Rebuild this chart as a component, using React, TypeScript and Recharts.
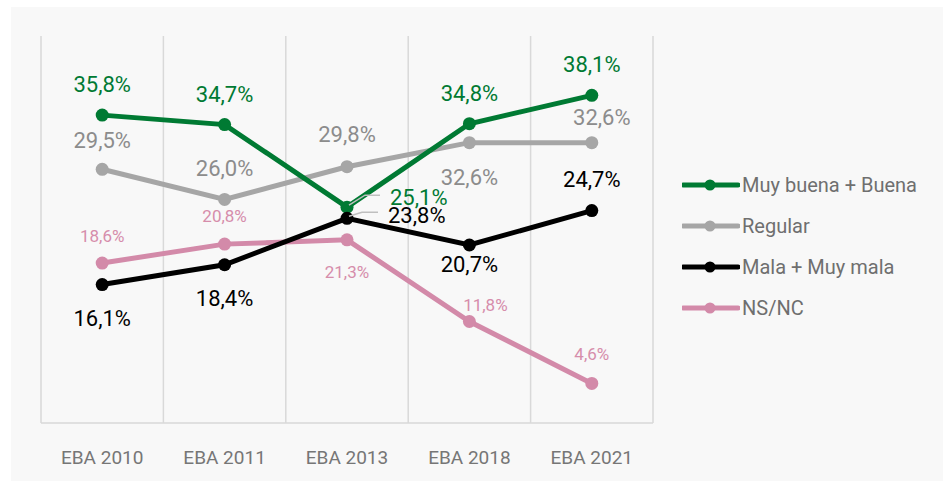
import { LineChart, Line, XAxis, YAxis, CartesianGrid, LabelList } from 'recharts';

const categories = ['EBA 2010', 'EBA 2011', 'EBA 2013', 'EBA 2018', 'EBA 2021'];
const muyBuenaBuena = [35.8, 34.7, 25.1, 34.8, 38.1];
const regular = [29.5, 26.0, 29.8, 32.6, 32.6];
const malaMuyMala = [16.1, 18.4, 23.8, 20.7, 24.7];
const nsnc = [18.6, 20.8, 21.3, 11.8, 4.6];

const data = categories.map((cat, i) => ({
  cat,
  good: muyBuenaBuena[i],
  regular: regular[i],
  bad: malaMuyMala[i],
  nsnc: nsnc[i],
}));

const FONT = 'Roboto, "Noto Sans", sans-serif';

// label placement per point: [dx, dy] or a leader-line spec
type Place = [number, number] | { leader: true; tx: number; ty: number; ex: number; ey: number; lx: number };

const series = [
  {
    key: 'good', name: 'Muy buena + Buena', color: '#007a33', text: '#007a33', size: 22,
    place: [[0, -31], [0, -30], { leader: true, tx: 43, ty: -10, ex: 18, ey: -12, lx: 33 }, [0, -30], [0, -31]] as Place[],
  },
  {
    key: 'regular', name: 'Regular', color: '#a6a6a6', text: '#8c8c8c', size: 22,
    place: [[0, -29], [0, -31], [0, -32], [0, 35], [10, -25]] as Place[],
  },
  {
    key: 'bad', name: 'Mala + Muy mala', color: '#000000', text: '#000000', size: 22,
    place: [[0, 34], [0, 34], { leader: true, tx: 41, ty: -3, ex: 15, ey: -6, lx: 31 }, [0, 20], [0, -31]] as Place[],
  },
  {
    key: 'nsnc', name: 'NS/NC', color: '#d38aa9', text: '#d68dab', size: 17,
    place: [[0, -27], [0, -28], [0, 32], [16, -17], [0, -29]] as Place[],
  },
];

const fmt = (v: number) => `${v.toFixed(1).replace('.', ',')}%`;

function makeLabel(s: (typeof series)[number]) {
  return (props: any) => {
    const { x, y, value, index } = props;
    const p = s.place[index];
    if (Array.isArray(p)) {
      return (
        <text x={x + p[0]} y={y + p[1]} textAnchor="middle" dominantBaseline="central"
          fill={s.text} fontSize={s.size} fontFamily={FONT}>
          {fmt(value)}
        </text>
      );
    }
    return (
      <g>
        <polyline points={`${x + 2},${y - 2} ${x + p.ex},${y + p.ey} ${x + p.lx},${y + p.ey}`}
          fill="none" stroke="#bfbfbf" strokeWidth={1.5} />
        <text x={x + p.tx} y={y + p.ty} textAnchor="start" dominantBaseline="central"
          fill={s.text} fontSize={s.size} fontFamily={FONT}>
          {fmt(value)}
        </text>
      </g>
    );
  };
}

function Tick(props: any) {
  const { x, y, payload } = props;
  return (
    <text x={x} y={y + 26} textAnchor="middle" dominantBaseline="central"
      fill="#767676" fontSize={19} fontFamily={FONT}>
      {payload.value}
    </text>
  );
}

function LegendBox() {
  return (
    <div style={{ position: 'absolute', left: 671, top: 157, fontFamily: FONT }}>
      {series.map((s) => (
        <div key={s.key} style={{ display: 'flex', alignItems: 'center', height: 41 }}>
          <svg width={58} height={14} style={{ marginRight: 2 }}>
            <line x1={1} y1={7} x2={56} y2={7} stroke={s.color} strokeWidth={5} strokeLinecap="round" />
            <circle cx={28} cy={7} r={5.5} fill={s.color} />
          </svg>
          <span style={{ color: '#6f6f6f', fontSize: 20, lineHeight: '20px' }}>{s.name}</span>
        </div>
      ))}
    </div>
  );
}

const drawOrder = ['regular', 'good', 'nsnc', 'bad'];

export default function App() {
  return (
    <div style={{ position: 'fixed', left: 11, top: 7, width: 932, height: 474, background: '#f8f8f8' }}>
      <LineChart width={932} height={474} data={data} margin={{ top: 29, right: 290, left: 30, bottom: 28 }}>
        <CartesianGrid
          horizontal={false}
          stroke="#d9d9d9"
          strokeWidth={1.5}
          verticalCoordinatesGenerator={({ offset }: any) =>
            Array.from({ length: categories.length + 1 }, (_, i) => offset.left + (i * offset.width) / categories.length)
          }
        />
        <XAxis dataKey="cat" scale="band" height={30} tickLine={false} tickSize={6} tickMargin={2}
          axisLine={{ stroke: '#d9d9d9', strokeWidth: 1.5 }} tick={<Tick />} interval={0} />
        <YAxis hide domain={[0, 45]} />
        {drawOrder.map((k) => {
          const s = series.find((x) => x.key === k)!;
          return (
            <Line key={s.key} dataKey={s.key} name={s.name} stroke={s.color} strokeWidth={5}
              dot={{ r: 6.5, fill: s.color, stroke: s.color, strokeWidth: 0 }} activeDot={false}
              isAnimationActive={false}>
              <LabelList dataKey={s.key} content={makeLabel(s)} />
            </Line>
          );
        })}
      </LineChart>
      <LegendBox />
    </div>
  );
}
